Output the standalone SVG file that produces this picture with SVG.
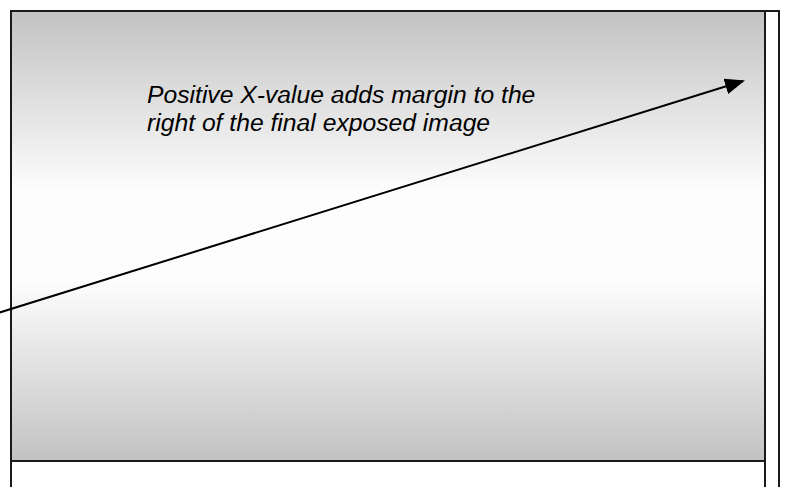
<svg xmlns="http://www.w3.org/2000/svg" width="787" height="487" viewBox="0 0 787 487">
  <style>
    .frame { stroke: #1a1a1a; stroke-width: 2; }
    .label { font-family: "Liberation Sans", Arial, sans-serif; font-style: italic; font-size: 24.7px; fill: #000; }
    .conn { stroke: #000; stroke-width: 2; fill: none; }
  </style>
  <defs>
    <linearGradient id="bg" x1="0" y1="0" x2="0" y2="1">
      <stop offset="0" stop-color="#c2c2c2"/>
      <stop offset="0.4" stop-color="#fdfdfd"/>
      <stop offset="0.6" stop-color="#fdfdfd"/>
      <stop offset="1" stop-color="#c2c2c2"/>
    </linearGradient>
    <marker id="arrow" markerWidth="10" markerHeight="8" refX="9" refY="4" orient="auto" markerUnits="strokeWidth">
      <path d="M0,0 L10,4 L0,8 z" fill="#000"/>
    </marker>
  </defs>
  <rect x="0" y="0" width="787" height="487" fill="#fff"/>
  <g id="right-strip">
    <rect class="frame" x="765" y="11" width="14" height="480" fill="#fff"/>
  </g>
  <g id="bottom-area">
    <rect class="frame" x="11" y="461" width="754" height="40" fill="#fff"/>
  </g>
  <g id="image-area">
    <rect class="frame" x="11" y="11" width="754" height="450" fill="url(#bg)"/>
  </g>
  <g id="label">
    <text class="label" x="147" y="103">Positive X-value adds margin to the</text>
    <text class="label" x="147" y="131">right of the final exposed image</text>
  </g>
  <g id="connectors">
    <line class="conn" x1="-2" y1="313" x2="743" y2="81" marker-end="url(#arrow)"/>
  </g>
</svg>
